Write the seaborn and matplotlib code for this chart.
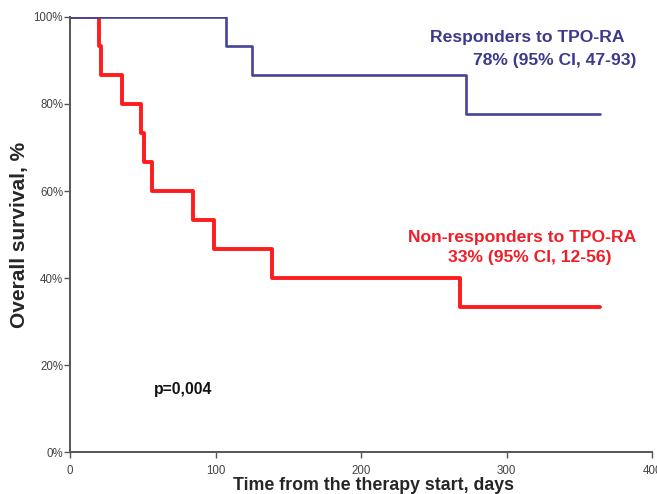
import matplotlib
matplotlib.use("Agg")
import numpy as np
import pandas as pd
import seaborn as sns
from matplotlib import pyplot as plt

# Kaplan-Meier steps
resp_days = [0, 107, 125, 272, 364]
resp_surv = [100, 93.3, 86.7, 77.8, 77.8]
nonresp_days = [0, 20, 21.5, 36, 49, 50.5, 56, 84.5, 99, 139, 268, 364]
nonresp_surv = [100, 93.3, 86.7, 80, 73.3, 66.7, 60, 53.3, 46.7, 40, 33.3, 33.3]

x_ticks = [0, 100, 200, 300, 400]
y_ticks = [0, 20, 40, 60, 80, 100]

blue = '#45449a'
red = '#ff1c1c'

sns.set_style('white')
plt.rcParams['font.family'] = ['Liberation Sans', 'DejaVu Sans']

df = pd.concat([
    pd.DataFrame({'days': nonresp_days, 'surv': nonresp_surv, 'group': 'Non-responders'}),
    pd.DataFrame({'days': resp_days, 'surv': resp_surv, 'group': 'Responders'}),
])

fig = plt.figure(figsize=(6.57, 4.94), dpi=100)
ax = fig.add_axes([0.1066, 0.085, 0.8858, 0.8806])

sns.lineplot(data=df[df.group == 'Non-responders'], x='days', y='surv', color=red,
             linewidth=2.8, drawstyle='steps-post', estimator=None, sort=False, ax=ax)
sns.lineplot(data=df[df.group == 'Responders'], x='days', y='surv', color=blue,
             linewidth=1.9, drawstyle='steps-post', estimator=None, sort=False, ax=ax)

ax.set_xlim(0, 400)
ax.set_ylim(0, 100)
ax.set_xticks(x_ticks)
ax.set_yticks(y_ticks)
ax.set_xticklabels([str(t) for t in x_ticks], fontsize=8.3, color='#444444',
                   family=['Liberation Sans Narrow', 'Liberation Sans'])
ax.set_yticklabels([f'{t}%' for t in y_ticks], fontsize=8.3, color='#444444',
                   family=['Liberation Sans Narrow', 'Liberation Sans'])
ax.tick_params(axis='both', direction='out', length=4, width=1, color='#555555',
               bottom=True, left=True, pad=1)
ax.tick_params(axis='x', pad=5)

for side in ['top', 'right']:
    ax.spines[side].set_visible(False)
for side in ['left', 'bottom']:
    ax.spines[side].set_color('#555555')
    ax.spines[side].set_linewidth(1.4)

ax.set_xlabel('Time from the therapy start, days', fontsize=12.8, fontweight='bold')
ax.xaxis.set_label_coords(0.522, -0.057)
ax.set_ylabel('Overall survival, %', fontsize=15, fontweight='bold', labelpad=3)

ax.text(381, 95.2, 'Responders to TPO-RA', ha='right', va='center', color='#3d3a8c',
        fontsize=12.6, fontweight='bold')
ax.text(389, 90.1, '78% (95% CI, 47-93)', ha='right', va='center', color='#3d3a8c',
        fontsize=12.6, fontweight='bold')
ax.text(389.5, 49.4, 'Non-responders to TPO-RA', ha='right', va='center', color='#f01e28',
        fontsize=12.6, fontweight='bold')
ax.text(372, 44.8, '33% (95% CI, 12-56)', ha='right', va='center', color='#f01e28',
        fontsize=12.6, fontweight='bold')
ax.text(58, 14.3, 'p=0,004', ha='left', va='center', color='#111111',
        fontsize=11.3, fontweight='bold')

fig.savefig('out.png', dpi=100)
